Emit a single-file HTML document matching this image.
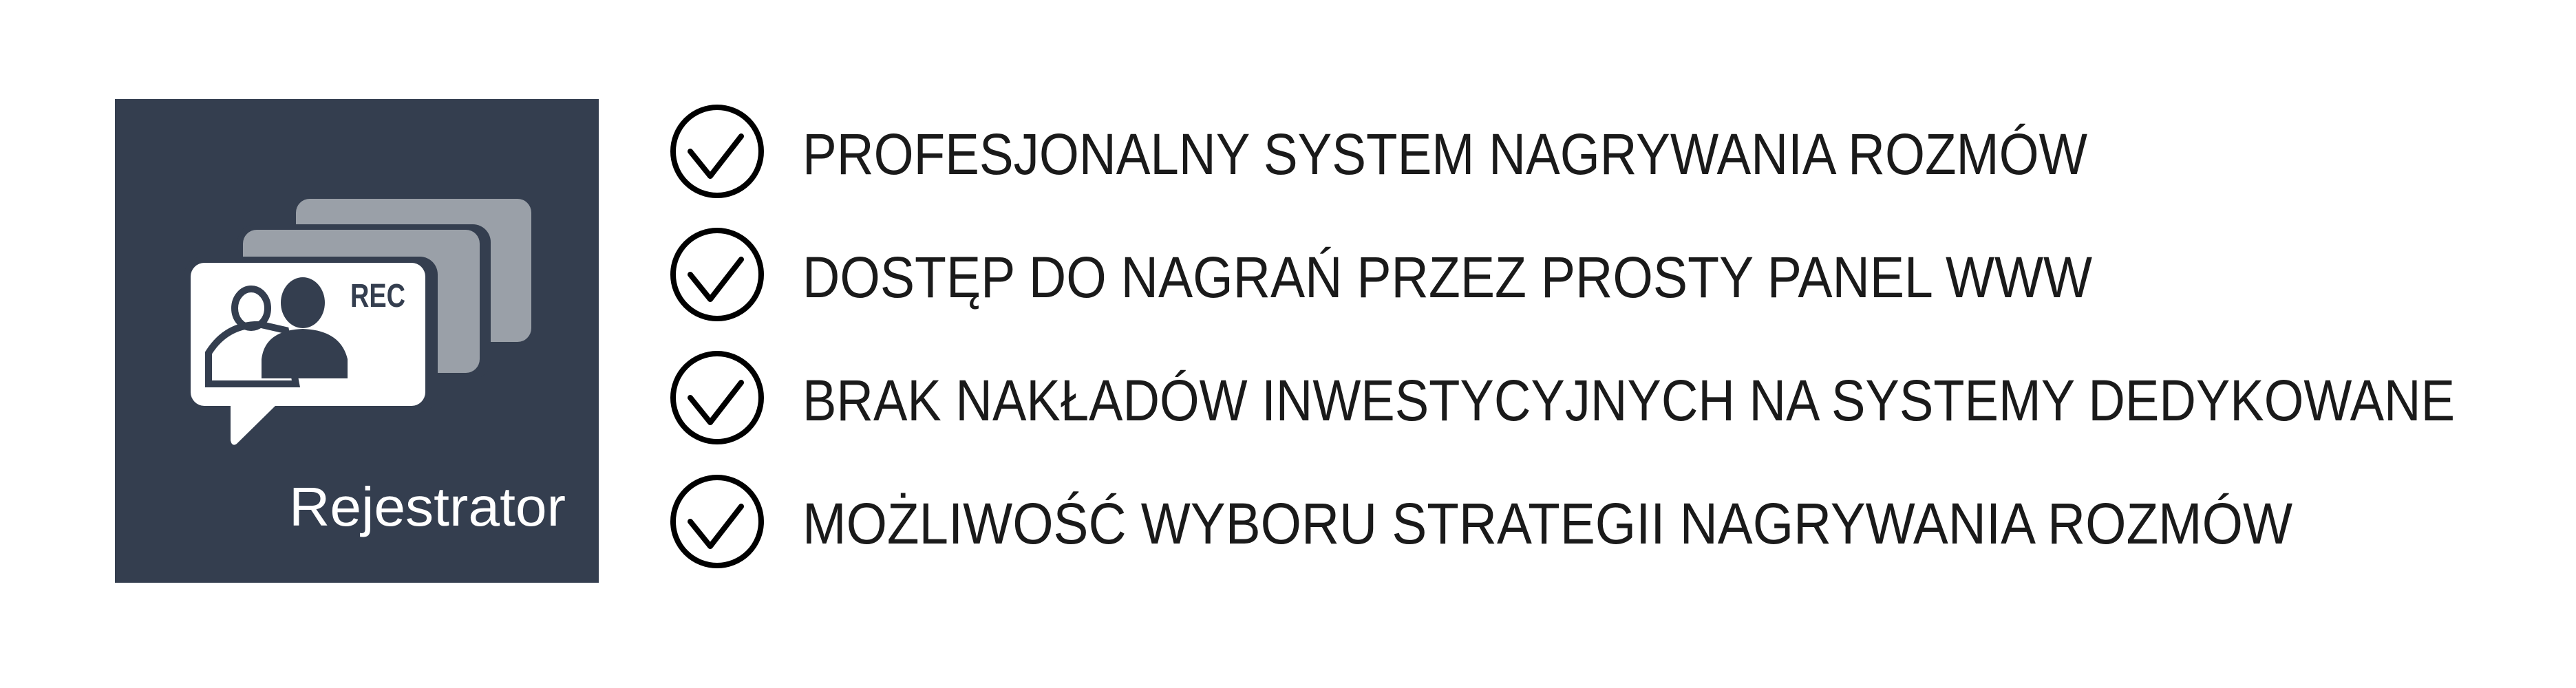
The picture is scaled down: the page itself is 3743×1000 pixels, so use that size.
<!DOCTYPE html>
<html><head><meta charset="utf-8"><style>
html,body{margin:0;padding:0;background:#fff;width:3743px;height:1000px;overflow:hidden}
svg{display:block}
</style></head><body>
<svg width="3743" height="1000" viewBox="0 0 3743 1000" xmlns="http://www.w3.org/2000/svg">
<g>
<rect x="167" y="144" width="703" height="703" fill="#343e4f"/>
<rect x="430" y="289" width="342" height="208" rx="20" fill="#9aa0a8"/>
<rect x="345" y="326" width="368" height="225" rx="26" fill="#343e4f"/>
<rect x="353" y="334" width="344" height="208" rx="20" fill="#9aa0a8"/>
<rect x="268" y="373" width="368" height="226" rx="26" fill="#343e4f"/>
<rect x="277" y="382" width="341" height="208" rx="20" fill="#fff"/>
<path d="M335 585 L335 640 Q337 650 344 645 L405 585 Z" fill="#fff"/>
<text x="509" y="446" font-family="Liberation Sans, sans-serif" font-weight="bold" font-size="48" fill="#343e4f" textLength="80" lengthAdjust="spacingAndGlyphs">REC</text>
<ellipse cx="365" cy="448" rx="24" ry="28" fill="none" stroke="#343e4f" stroke-width="10"/>
<path d="M303 558 L303 513 Q330 470 380 472 L415 480 L430 558 Z" fill="none" stroke="#343e4f" stroke-width="10"/>
<ellipse cx="440" cy="440" rx="32" ry="37" fill="#343e4f"/>
<path d="M380 550 L380 522 Q385 480 440 478 Q495 480 505 522 L505 550 Z" fill="#343e4f"/>
<text x="420" y="764" font-family="Liberation Sans, sans-serif" font-size="80" fill="#fff" textLength="402" lengthAdjust="spacingAndGlyphs">Rejestrator</text>
</g>
<g font-family="Liberation Sans, 'Noto Sans CJK SC', sans-serif" font-size="84" fill="#1a1a1a">
<g>
<circle cx="1042" cy="220" r="64" fill="none" stroke="#000" stroke-width="8"/>
<path d="M1003 220 L1032 256 L1077 198" fill="none" stroke="#000" stroke-width="8" stroke-linecap="round" stroke-linejoin="round"/>
<text x="1166" y="253" textLength="1867" lengthAdjust="spacingAndGlyphs">PROFESJONALNY SYSTEM NAGRYWANIA ROZMÓW</text>
</g>
<g>
<circle cx="1042" cy="399" r="64" fill="none" stroke="#000" stroke-width="8"/>
<path d="M1003 399 L1032 435 L1077 377" fill="none" stroke="#000" stroke-width="8" stroke-linecap="round" stroke-linejoin="round"/>
<text x="1166" y="432" textLength="1874" lengthAdjust="spacingAndGlyphs">DOSTĘP DO NAGRAŃ PRZEZ PROSTY PANEL WWW</text>
</g>
<g>
<circle cx="1042" cy="578" r="64" fill="none" stroke="#000" stroke-width="8"/>
<path d="M1003 578 L1032 614 L1077 556" fill="none" stroke="#000" stroke-width="8" stroke-linecap="round" stroke-linejoin="round"/>
<text x="1166" y="611" textLength="2401" lengthAdjust="spacingAndGlyphs">BRAK NAKŁADÓW INWESTYCYJNYCH NA SYSTEMY DEDYKOWANE</text>
</g>
<g>
<circle cx="1042" cy="758" r="64" fill="none" stroke="#000" stroke-width="8"/>
<path d="M1003 758 L1032 794 L1077 736" fill="none" stroke="#000" stroke-width="8" stroke-linecap="round" stroke-linejoin="round"/>
<text x="1166" y="790" textLength="2165" lengthAdjust="spacingAndGlyphs">MOŻLIWOŚĆ WYBORU STRATEGII NAGRYWANIA ROZMÓW</text>
</g>
</g>
</svg>
</body></html>
